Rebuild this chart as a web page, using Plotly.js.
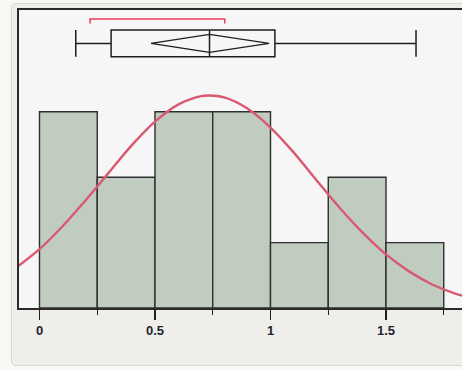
<!DOCTYPE html>
<html>
<head>
<meta charset="utf-8">
<script src="https://cdn.plot.ly/plotly-3.0.1.min.js"></script>
<style>
  html, body { margin: 0; padding: 0; overflow: hidden; background: #f8f8f6; }
  #panel {
    position: absolute; left: 11px; top: 3px; width: 470px; height: 361px;
    background: #efeeeb; border: 1px solid #d6d6d2; border-radius: 5px;
  }
  #plot { position: absolute; left: 0; top: 0; width: 462px; height: 370px; }
</style>
</head>
<body>
<div id="panel"></div>
<div id="plot"></div>
<script>
// ------------------------------------------------------------------------------
// DATA

// histogram: bin centres and counts, bins are 0.25 wide
const bin_centers = [0.125, 0.375, 0.625, 0.875, 1.125, 1.375, 1.625];
const bin_counts  = [3, 2, 3, 3, 1, 2, 1];

// fitted normal curve, in counts
const curve_x = [-0.1, 0, 0.1, 0.2, 0.3, 0.4, 0.5, 0.6, 0.7, 0.736, 0.8, 0.9,
                 1.0, 1.1, 1.2, 1.3, 1.4, 1.5, 1.6, 1.7, 1.8, 1.9];
const curve_y = [0.62, 0.90, 1.25, 1.65, 2.07, 2.49, 2.85, 3.11, 3.24, 3.25, 3.22, 3.05,
                 2.76, 2.38, 1.95, 1.53, 1.15, 0.82, 0.56, 0.36, 0.22, 0.13];

// outlier box plot summary
const whisker_lo = [0.157];
const q1         = [0.31];
const median     = [0.736];
const q3         = [1.019];
const whisker_hi = [1.63];
const mean_ci    = [0.483, 0.736, 0.994];   // lower, mean, upper
const shortest_half = [0.219, 0.802];

const tick_vals  = [0, 0.5, 1, 1.5];
const tick_texts = ['0', '0.5', '1', '1.5'];

// ------------------------------------------------------------------------------
// PARAMETERS
const box_y      = 4.046;   // centre of the box plot strip (count units)
const box_h      = 0.41;
const diamond_h  = 0.137;
const bracket_y  = 4.42;
const bracket_dy = 0.07;
const font_family = 'Arial, Helvetica, sans-serif';
const ink = '#1e1e1e';

const bars = {
    type: 'bar',
    x: bin_centers,
    y: bin_counts,
    width: 0.25,
    marker: { color: '#c1ccc0', line: { color: '#2e2e2e', width: 1.4 } },
    hoverinfo: 'none',
    showlegend: false
};

const curve = {
    type: 'scatter',
    mode: 'lines',
    x: curve_x,
    y: curve_y,
    line: { color: '#d95a70', width: 2.4, shape: 'spline' },
    hoverinfo: 'none',
    showlegend: false
};

const box = {
    type: 'box',
    orientation: 'h',
    y: [box_y],
    q1: q1,
    median: median,
    q3: q3,
    lowerfence: whisker_lo,
    upperfence: whisker_hi,
    width: box_h,
    whiskerwidth: 1,
    fillcolor: 'rgba(0,0,0,0)',
    line: { color: ink, width: 1.5 },
    hoverinfo: 'none',
    showlegend: false
};

const diamond = {
    type: 'scatter',
    mode: 'lines',
    x: [mean_ci[0], mean_ci[1], mean_ci[2], mean_ci[1], mean_ci[0]],
    y: [box_y, box_y + diamond_h, box_y, box_y - diamond_h, box_y],
    line: { color: ink, width: 1.3 },
    hoverinfo: 'none',
    showlegend: false
};

const bracket = {
    type: 'scatter',
    mode: 'lines',
    x: [shortest_half[0], shortest_half[0], shortest_half[1], shortest_half[1]],
    y: [bracket_y - bracket_dy, bracket_y, bracket_y, bracket_y - bracket_dy],
    line: { color: '#ec3d5a', width: 1.5 },
    hoverinfo: 'none',
    showlegend: false
};

const layout = {
    width: 462,
    height: 370,
    margin: { l: 19, r: 0, t: 10, b: 61.5 },
    paper_bgcolor: 'rgba(0,0,0,0)',
    plot_bgcolor: '#f6f6f6',
    bargap: 0,
    showlegend: false,
    font: { family: font_family, color: ink },
    xaxis: {
        range: [-0.0887, 1.829],
        tickvals: tick_vals,
        ticktext: tick_texts,
        ticks: 'outside',
        ticklen: 10,
        tickwidth: 1.4,
        tickcolor: '#1e1e1e',
        minor: { dtick: 0.25, tick0: 0, ticks: 'outside', ticklen: 5, tickwidth: 1.4, tickcolor: '#1e1e1e', showgrid: false },
        tickfont: { family: font_family, size: 13, color: '#1e2430', weight: 'bold' },
        showgrid: false,
        zeroline: false,
        showline: true,
        mirror: true,
        linecolor: '#2a2a2a',
        linewidth: 1.6,
        fixedrange: true
    },
    yaxis: {
        range: [0, 4.557],
        showticklabels: false,
        ticks: '',
        showgrid: false,
        zeroline: false,
        showline: true,
        linecolor: '#2a2a2a',
        linewidth: 1.6,
        fixedrange: true
    }
};

Plotly.newPlot('plot', [bars, curve, box, diamond, bracket], layout, { displayModeBar: false, staticPlot: true });
</script>
</body>
</html>
